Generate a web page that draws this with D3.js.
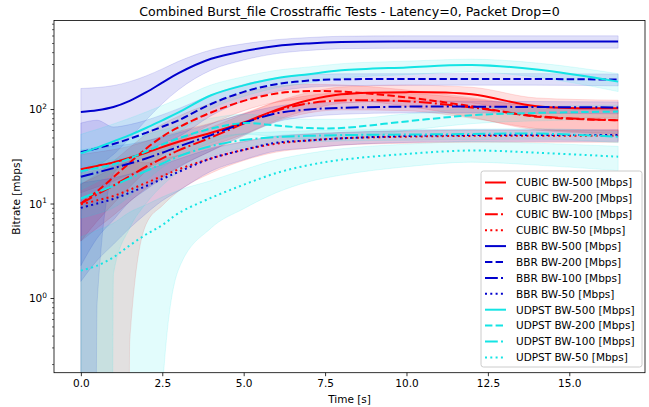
<!DOCTYPE html>
<html>
<head>
<meta charset="utf-8">
<script src="https://cdn.jsdelivr.net/npm/d3@7"></script>
<style>
  body { margin: 0; background: #fff; }
  svg { font-family: "DejaVu Sans", sans-serif; }
</style>
</head>
<body>
<svg id="chart" width="649" height="407"></svg>
<script>
// sample times (s), shared by every series
const times = [0, 0.5, 1, 1.5, 2, 2.5, 3, 4, 5, 6, 7, 8, 10, 12, 14, 16.5];
const bandwidths = [500, 200, 100, 50];
const protocols = ["CUBIC", "BBR", "UDPST"];

// mean bitrate [Mbps], one row per bandwidth (500, 200, 100, 50)
const cubicMean = [
  [23, 25, 27.2, 30.5, 34.5, 39.5, 45, 56, 72, 98, 124, 143, 151, 143, 107, 102],
  [10, 13.5, 19, 27, 38, 51, 64, 92, 122, 146, 155, 153, 133, 107, 83, 76],
  [10, 12.5, 15.5, 19.5, 24.5, 30, 36.5, 50, 70, 96, 115, 123, 121, 104, 84, 76],
  [9.8, 10.8, 12, 14, 16.5, 19.5, 23, 30, 37, 43, 46.5, 49, 51, 52, 52, 52]
];
const bbrMean = [
  [93, 97, 105, 122, 150, 190, 240, 340, 410, 464, 494, 512, 518, 518, 518, 518],
  [35, 38.5, 42.6, 48.5, 56, 65, 76, 113, 152, 183, 200, 206, 208, 208, 208, 205],
  [19.2, 21.3, 23.7, 26.5, 30, 34.5, 40, 53, 71, 90, 99, 103, 106, 106, 105, 104],
  [9, 10, 11.2, 13, 15.3, 18.2, 21.6, 30, 37, 44, 46.5, 49, 51.8, 53, 53, 53]
];
const udpstMean = [
  [34, 39, 45.5, 53, 63, 76, 92, 140, 178, 212, 234, 257, 276, 292, 262, 195],
  [22, 23.8, 26, 30, 35.5, 42, 49, 62, 71, 67, 63, 63, 74, 86, 91, 94],
  [11.3, 13.2, 15.4, 18.5, 22, 26.5, 31.5, 40.6, 47, 50.5, 52, 53, 53.7, 54.4, 55, 51],
  [1.95, 2.2, 2.7, 3.6, 4.7, 5.9, 7.9, 11.5, 15.8, 21, 25.5, 29, 33.5, 36.4, 34.5, 31.3]
];

// standard deviation [Mbps], same layout
const cubicSd = [
  [10, 10, 10, 10, 11, 12, 13, 15, 18, 22, 26, 28, 28, 27, 24, 22],
  [6, 7, 9, 12, 16, 18, 20, 23, 26, 28, 28, 27, 26, 25, 23, 22],
  [6, 7, 8, 9, 10, 11, 12, 14, 18, 22, 24, 25, 25, 24, 22, 21],
  [11, 12, 13, 13.65, 10.5, 10, 9.5, 9, 8.5, 8, 8, 7.5, 7.5, 7.5, 7.5, 7.5]
];
const bbrSd = [
  [72, 72, 72, 73, 74, 76, 80, 82, 80, 78, 77, 77, 77, 77, 77, 77],
  [36, 37.6, 22, 20, 20, 22, 25, 28, 30, 30, 30, 30, 29, 29, 29, 29],
  [17, 17, 17, 16, 16, 16, 16, 17, 18, 17, 16, 15, 15, 15, 15, 15],
  [7.5, 7.5, 7.5, 7.5, 7.5, 7.5, 8, 8, 8, 8, 8, 7.5, 7.5, 7.5, 7.5, 7.5]
];
const udpstSd = [
  [20, 22, 24, 27, 30, 33, 36, 40, 42, 45, 45, 45, 45, 45, 45, 42],
  [15, 16, 17, 18, 18, 18, 18, 18, 17, 16, 15, 15, 15, 16, 16, 16],
  [12, 14, 13.6, 13, 12, 11, 10, 9, 8, 7, 7, 7, 7, 7, 7, 7],
  [2.5, 3, 3.5, 4.5, 5, 5.8, 5.9, 6, 7, 8, 8.5, 9, 9, 9, 9, 9]
];

const xTicks = [0, 2.5, 5, 7.5, 10, 12.5, 15];
const yTicks = [1, 10, 100];

const means = [cubicMean, bbrMean, udpstMean];
const sds = [cubicSd, bbrSd, udpstSd];
const colors = {CUBIC: "#ff0000", BBR: "#0000cd", UDPST: "#14e4e4"};
const dashes = [null, "7.4,3.2", "12.8,3.2,2,3.2", "2,3.3"];
const fs = 10.5;

const svg = d3.select("#chart");
const pLeft = 54, pRight = 645, pTop = 20.5, pBottom = 372.7;

const x = d3.scaleLinear([-0.825, 17.325], [pLeft, pRight]);
const y = d3.scaleLog([0.162, 865], [pBottom, pTop]);

const series = protocols.flatMap((p, pi) => bandwidths.map((bw, bi) => ({
  name: `${p} BW-${bw} [Mbps]`,
  color: colors[p],
  dash: dashes[bi],
  pts: times.map((t, i) => ({t: t, m: means[pi][bi][i], s: sds[pi][bi][i]}))
})));

svg.append("defs").append("clipPath").attr("id", "plotclip")
  .append("rect")
    .attr("x", pLeft).attr("y", pTop)
    .attr("width", pRight - pLeft).attr("height", pBottom - pTop);

// bands: mean +/- sd, non positive lower bound falls far below the axis
const floorY = pBottom + 20000;
const band = d3.area()
  .x(d => x(d.t))
  .y0(d => d.m - d.s > 0 ? y(d.m - d.s) : floorY)
  .y1(d => y(d.m + d.s))
  .curve(d3.curveMonotoneX);

const line = d3.line()
  .x(d => x(d.t))
  .y(d => y(d.m))
  .curve(d3.curveCatmullRom.alpha(0.5));

const plot = svg.append("g").attr("clip-path", "url(#plotclip)");

plot.append("g")
  .selectAll("path")
  .data(series)
  .join("path")
    .attr("d", d => band(d.pts))
    .attr("fill", d => d.color)
    .attr("fill-opacity", 0.12)
    .attr("stroke", d => d.color)
    .attr("stroke-opacity", 0.12)
    .attr("stroke-width", 1);

plot.append("g")
  .selectAll("path")
  .data(series)
  .join("path")
    .attr("d", d => line(d.pts))
    .attr("fill", "none")
    .attr("stroke", d => d.color)
    .attr("stroke-width", 2)
    .attr("stroke-dasharray", d => d.dash);

// x axis
svg.append("g")
  .attr("transform", `translate(0,${pBottom})`)
  .call(d3.axisBottom(x).tickValues(xTicks).tickFormat(d3.format(".1f")).tickSize(3.5).tickPadding(3.5))
  .call(g => g.select(".domain").remove())
  .call(g => g.selectAll(".tick line").attr("stroke", "#000").attr("stroke-width", 0.8))
  .call(g => g.selectAll(".tick text").attr("fill", "#000").attr("font-size", fs).attr("font-family", "DejaVu Sans"));

// y axis, minor ticks
const minor = [];
for (let e = -1; e <= 2; e++) {
  for (let k = 2; k <= 9; k++) {
    const v = k * Math.pow(10, e);
    if (v > 0.162 && v < 865) minor.push(v);
  }
}
svg.append("g")
  .attr("transform", `translate(${pLeft},0)`)
  .call(d3.axisLeft(y).tickValues(minor).tickFormat("").tickSize(2))
  .call(g => g.select(".domain").remove())
  .call(g => g.selectAll(".tick line").attr("stroke", "#000").attr("stroke-width", 0.6));

const yAxis = svg.append("g")
  .attr("transform", `translate(${pLeft},0)`)
  .call(d3.axisLeft(y).tickValues(yTicks).tickFormat("").tickSize(3.5))
  .call(g => g.select(".domain").remove())
  .call(g => g.selectAll(".tick line").attr("stroke", "#000").attr("stroke-width", 0.8));

yAxis.selectAll(".tick").each(function(d) {
  const t = d3.select(this).append("text")
    .attr("x", -7)
    .attr("y", 3.8)
    .attr("fill", "#000")
    .attr("font-size", fs)
    .attr("font-family", "DejaVu Sans")
    .attr("text-anchor", "end");
  t.append("tspan").text("10");
  t.append("tspan").attr("dy", -4.8).attr("font-size", 7.4).text(Math.round(Math.log10(d)));
});

// frame
svg.append("rect")
  .attr("x", pLeft).attr("y", pTop)
  .attr("width", pRight - pLeft).attr("height", pBottom - pTop)
  .attr("fill", "none")
  .attr("stroke", "#000")
  .attr("stroke-width", 0.8);

// labels
svg.append("text")
  .attr("x", (pLeft + pRight) / 2).attr("y", 403)
  .attr("text-anchor", "middle")
  .attr("font-size", fs)
  .text("Time [s]");

svg.append("text")
  .attr("transform", `translate(19.5,${(pTop + pBottom) / 2}) rotate(-90)`)
  .attr("text-anchor", "middle")
  .attr("font-size", fs)
  .text("Bitrate [mbps]");

svg.append("text")
  .attr("x", (pLeft + pRight) / 2).attr("y", 15.5)
  .attr("text-anchor", "middle")
  .attr("font-size", 12.6)
  .text("Combined Burst_file Crosstraffic Tests - Latency=0, Packet Drop=0");

// legend
const lg = svg.append("g").attr("transform", "translate(481,171)");
lg.append("rect")
  .attr("width", 161).attr("height", 196)
  .attr("rx", 2.5)
  .attr("fill", "#fff").attr("fill-opacity", 0.8)
  .attr("stroke", "#ccc").attr("stroke-width", 1);

const row = lg.selectAll("g.row")
  .data(series)
  .join("g")
    .attr("class", "row")
    .attr("transform", (d, i) => `translate(0,${11.5 + i * 15.9})`);
row.append("line")
  .attr("x1", 4).attr("x2", 25)
  .attr("stroke", d => d.color)
  .attr("stroke-width", 2)
  .attr("stroke-dasharray", d => d.dash);
row.append("text")
  .attr("x", 35).attr("y", 3.8)
  .attr("font-size", fs)
  .text(d => d.name);
</script>
</body>
</html>
